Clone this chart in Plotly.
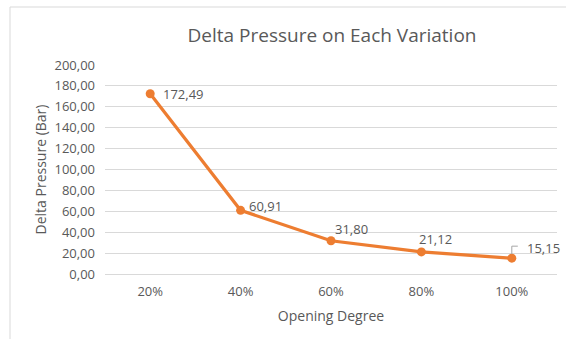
import plotly.graph_objects as go

# Opening degree categories and measured delta pressure (bar)
opening = ["20%", "40%", "60%", "80%", "100%"]
delta_p = [172.49, 60.91, 31.80, 21.12, 15.15]
y_ticks = [0, 20, 40, 60, 80, 100, 120, 140, 160, 180, 200]
y_tick_text = [f"{v:.2f}".replace(".", ",") for v in y_ticks]

# label offsets (px) relative to each point
label_shift = [(33, 0), (25, 4), (20, 12), (14, 13), (32, 10)]

ORANGE = "#ED7D31"
GREY = "#595959"
GRID = "#D9D9D9"
FONT = "Open Sans"

fig = go.Figure()
fig.add_trace(go.Scatter(
    x=opening, y=delta_p, mode="lines+markers",
    line=dict(color=ORANGE, width=3.2),
    marker=dict(color=ORANGE, size=9),
    hoverinfo="skip", showlegend=False,
))

for cat, val, (dx, dy) in zip(opening, delta_p, label_shift):
    fig.add_annotation(
        x=cat, y=val, text=f"{val:.2f}".replace(".", ","),
        showarrow=False, xshift=dx, yshift=dy,
        font=dict(family=FONT, size=13, color=GREY),
    )

# leader line for the last label
fig.add_shape(
    type="path", xref="x", yref="y",
    xsizemode="pixel", ysizemode="pixel",
    xanchor=opening[-1], yanchor=delta_p[-1],
    path="M0,4 L0,12 L6,12",
    line=dict(color="#A6A6A6", width=1),
)

# chart border
fig.add_shape(
    type="rect", xref="paper", yref="paper",
    x0=(10 - 105) / 452, x1=(575 - 105) / 452,
    y0=(274 - 345) / 209, y1=(274 - 7) / 209,
    line=dict(color=GRID, width=1), fillcolor="rgba(0,0,0,0)", layer="below",
)

fig.update_layout(
    width=566, height=339,
    margin=dict(l=105, r=9, t=65, b=65),
    paper_bgcolor="white", plot_bgcolor="white",
    font=dict(family=FONT, color=GREY),
    title=dict(
        text="Delta Pressure on Each Variation",
        x=332 / 566, xanchor="center", y=1 - 35 / 339, yanchor="middle",
        font=dict(family=FONT, size=19, color=GREY),
    ),
    xaxis=dict(
        type="category", range=[-0.5, 4.5],
        showgrid=False, showline=False, zeroline=False,
        ticks="", tickfont=dict(size=13, color=GREY), ticklabelstandoff=8,
        title=dict(text="Opening Degree", font=dict(size=14, color=GREY), standoff=12),
    ),
    yaxis=dict(
        range=[0, 200], tickvals=y_ticks, ticktext=y_tick_text,
        showgrid=True, gridcolor=GRID, gridwidth=1,
        zeroline=True, zerolinecolor=GRID, zerolinewidth=1,
        showline=False, ticks="", tickfont=dict(size=13, color=GREY), ticklabelstandoff=9,
        title=dict(text="Delta Pressure (Bar)", font=dict(size=14, color=GREY), standoff=4),
    ),
)

fig.write_html("out.html")
